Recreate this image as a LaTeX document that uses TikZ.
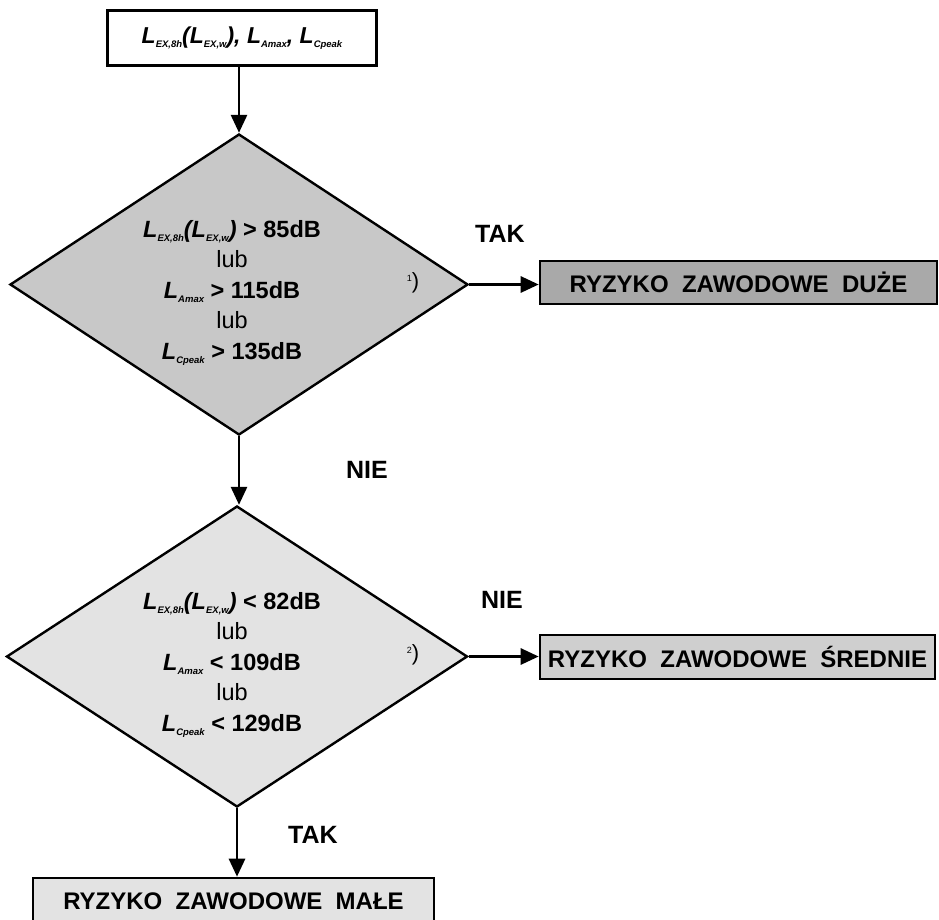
\documentclass[tikz,border=0pt]{standalone}
\usepackage{fontspec}
\setmainfont{Liberation Sans}
\usetikzlibrary{arrows.meta,shapes.geometric}
\definecolor{dOne}{HTML}{C8C8C8}
\definecolor{dTwo}{HTML}{E3E3E3}
\definecolor{bigBox}{HTML}{A9A9A9}
\definecolor{midBox}{HTML}{CFCFCF}
\definecolor{lowBox}{HTML}{E3E3E3}
\newcommand{\Lsym}[1]{{\bfseries\itshape L\raisebox{-0.35ex}{\fontsize{9.5}{9.5}\selectfont #1}}}
\newcommand{\bip}[1]{{\bfseries\itshape #1}}
\tikzset{
  resbox/.style={draw, line width=2.6pt, inner sep=0pt, font=\fontsize{24}{24}\selectfont\bfseries},
  decis/.style={draw, line width=2.4pt, shape=diamond, inner sep=0pt},
  cond/.style={align=center, inner sep=0pt, font=\fontsize{23.5}{30.5}\selectfont},
  lbl/.style={inner sep=0pt, font=\fontsize{25}{25}\selectfont\bfseries},
  fnote/.style={inner sep=0pt},
  arr/.style={line width=2.8pt, -{Triangle[length=18pt,width=16pt]}}
}
\begin{document}
\begin{tikzpicture}[x=1pt,y=-1pt]
\useasboundingbox (0,0) rectangle (939,919);
% start box
\node[draw, line width=2.6pt, inner sep=0pt, minimum width=269pt, minimum height=55pt, fill=white,
      font=\fontsize{23}{23}\selectfont] (start) at (242,38)
  {\Lsym{EX,8h}\bip{(}\Lsym{EX,w}\bip{)}\bip{,} \Lsym{Amax}\bip{,} \Lsym{Cpeak}};
% decisions
\node[decis, fill=dOne, minimum width=458pt, minimum height=301pt] (d1) at (239,284.5) {};
\node[cond] (t1) at (232,293)
  {\Lsym{EX,8h}\bip{(}\Lsym{EX,w}\bip{)} \textbf{> 85dB}\\
   lub\\
   \Lsym{Amax} \textbf{> 115dB}\\
   lub\\
   \Lsym{Cpeak} \textbf{> 135dB}};
\node[fnote] (f1) at (413,283) {\raisebox{1.3ex}{\fontsize{9}{9}\selectfont 1}\fontsize{22}{22}\selectfont)};

\node[decis, fill=dTwo, minimum width=461pt, minimum height=301pt] (d2) at (237,656.5) {};
\node[cond] (t2) at (232,665)
  {\Lsym{EX,8h}\bip{(}\Lsym{EX,w}\bip{)} \textbf{< 82dB}\\
   lub\\
   \Lsym{Amax} \textbf{< 109dB}\\
   lub\\
   \Lsym{Cpeak} \textbf{< 129dB}};
\node[fnote] (f2) at (413,655) {\raisebox{1.3ex}{\fontsize{9}{9}\selectfont 2}\fontsize{22}{22}\selectfont)};

% result boxes
\node[resbox, fill=bigBox, minimum width=397pt, minimum height=43pt] (duze) at (738.5,282.5) {RYZYKO\ \ ZAWODOWE\ \ DUŻE};
\node[resbox, fill=midBox, minimum width=395pt, minimum height=44pt] (sred) at (737.5,657) {RYZYKO\ \ ZAWODOWE\ \ ŚREDNIE};
\node[resbox, fill=lowBox, minimum width=401pt, minimum height=46pt] (male) at (233.5,901) {RYZYKO\ \ ZAWODOWE\ \ MAŁE};

% labels
\node[lbl] (tak1) at (500,234) {TAK};
\node[lbl] (nie1) at (367,470) {NIE};
\node[lbl] (nie2) at (502,600) {NIE};
\node[lbl] (tak2) at (313,835) {TAK};

% connectors
\draw[arr] (start.south -| d1.north) -- (d1.north);
\draw[arr] (d1.east) -- (d1.east -| duze.west);
\draw[arr] (d1.south) -- (d2.north -| d1.south);
\draw[arr] (d2.east) -- (d2.east -| sred.west);
\draw[arr] (d2.south) -- (male.north -| d2.south);
\end{tikzpicture}
\end{document}
